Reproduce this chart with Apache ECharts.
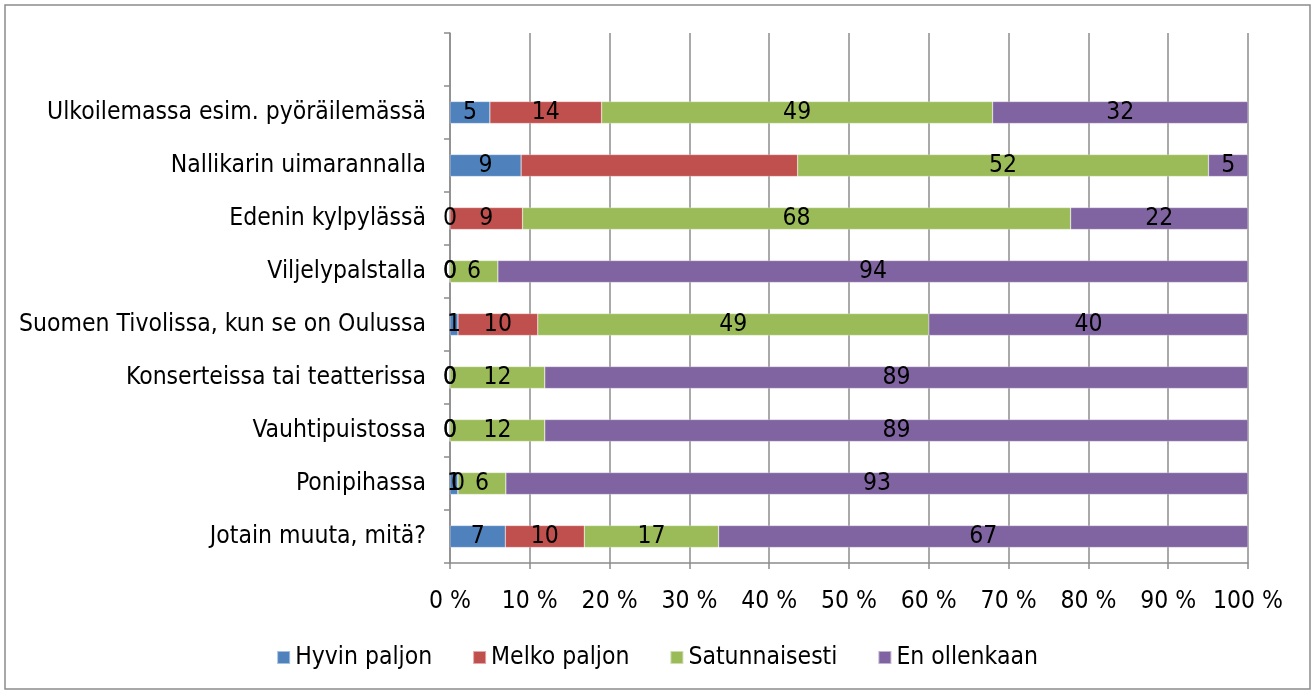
<!DOCTYPE html>
<html>
<head>
<meta charset="utf-8">
<script src="https://cdn.jsdelivr.net/npm/echarts@6/dist/echarts.min.js"></script>
<style>
  html, body { margin: 0; padding: 0; background: #fff; }
  #chart { width: 1314px; height: 693px; }
</style>
</head>
<body>
<div id="chart"></div>
<script>
// Activities, top to bottom
const categories = [
  'Ulkoilemassa esim. pyöräilemässä',
  'Nallikarin uimarannalla',
  'Edenin kylpylässä',
  'Viljelypalstalla',
  'Suomen Tivolissa, kun se on Oulussa',
  'Konserteissa tai teatterissa',
  'Vauhtipuistossa',
  'Ponipihassa',
  'Jotain muuta, mitä?'
];
const seriesNames = ['Hyvin paljon', 'Melko paljon', 'Satunnaisesti', 'En ollenkaan'];
const hyvinPaljon   = [5, 9, 0, 0, 1, 0, 0, 1, 7];
const melkoPaljon   = [14, 35, 9, 0, 10, 0, 0, 0, 10];
const satunnaisesti = [49, 52, 68, 6, 49, 12, 12, 6, 17];
const enOllenkaan   = [32, 5, 22, 94, 40, 89, 89, 93, 67];
// labels left out on the chart: [series index, row index]
const hiddenLabels = [[1, 1]];
const xTickLabels = ['0 %', '10 %', '20 %', '30 %', '40 %', '50 %', '60 %', '70 %', '80 %', '90 %', '100 %'];

const FONT = '"Liberation Sans Narrow", "DejaVu Sans Condensed", "Open Sans", sans-serif';
const FS = 24.5;
const colors = ['#4F81BD', '#C0504D', '#9BBB59', '#8064A2'];
const raw = [hyvinPaljon, melkoPaljon, satunnaisesti, enOllenkaan];
const totals = categories.map((_, i) => raw.reduce((s, arr) => s + arr[i], 0));

// an empty slot sits above the first activity
const yCats = [''].concat(categories);

const series = raw.map((arr, si) => ({
  name: seriesNames[si],
  type: 'bar',
  stack: 'all',
  barWidth: 22,
  itemStyle: { color: colors[si], borderColor: 'rgba(255,255,255,0.5)', borderWidth: 0.5 },
  label: {
    show: true,
    position: 'inside',
    color: '#000',
    fontFamily: FONT,
    fontSize: FS,
    formatter: p => String(arr[p.dataIndex - 1])
  },
  data: [null].concat(arr.map((v, i) => {
    const item = { value: v / totals[i] * 100 };
    if (hiddenLabels.some(h => h[0] === si && h[1] === i)) item.label = { show: false };
    return item;
  }))
}));

const chart = echarts.init(document.getElementById('chart'), null, { renderer: 'canvas' });
chart.setOption({
  animation: false,
  color: colors,
  textStyle: { fontFamily: FONT },
  grid: { left: 450, right: 66, top: 33, bottom: 130, containLabel: false },
  graphic: [{
    type: 'rect',
    shape: { x: 5, y: 5, width: 1305, height: 684 },
    style: { fill: 'none', stroke: '#8c8c8c', lineWidth: 1.5 },
    z: -1
  }],
  legend: {
    data: seriesNames,
    bottom: 18,
    left: 'center',
    icon: 'rect',
    itemWidth: 13,
    itemHeight: 13,
    itemGap: 40,
    textStyle: { fontFamily: FONT, fontSize: FS, color: '#000' }
  },
  xAxis: {
    type: 'value',
    min: 0,
    max: 100,
    interval: 10,
    axisLine: { show: true, lineStyle: { color: '#8c8c8c', width: 1.5 } },
    axisTick: { show: true, length: 6, lineStyle: { color: '#8c8c8c', width: 1.5 } },
    splitLine: { show: true, lineStyle: { color: '#8c8c8c', width: 1.5 } },
    axisLabel: {
      color: '#000',
      fontFamily: FONT,
      fontSize: FS,
      margin: 26,
      formatter: v => xTickLabels[Math.round(v / 10)]
    }
  },
  yAxis: {
    type: 'category',
    inverse: true,
    data: yCats,
    axisLine: { show: true, lineStyle: { color: '#8c8c8c', width: 1.5 } },
    axisTick: { show: true, length: 6, lineStyle: { color: '#8c8c8c', width: 1.5 } },
    axisLabel: { color: '#000', fontFamily: FONT, fontSize: FS, margin: 24 }
  },
  series: series
});
</script>
</body>
</html>
